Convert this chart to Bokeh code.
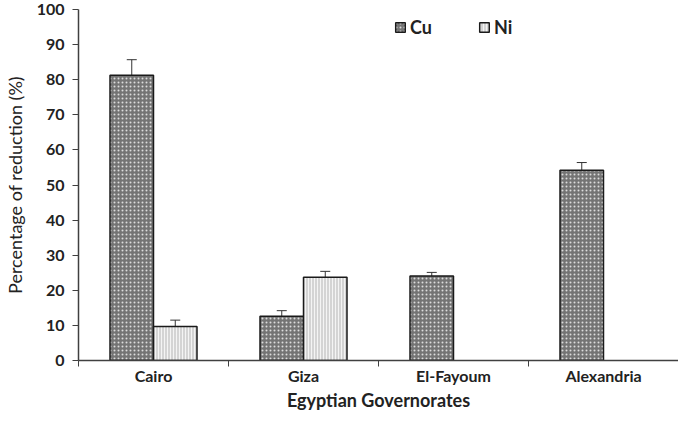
from bokeh.plotting import figure
from bokeh.models import ColumnDataSource, Whisker, FixedTicker, Legend, LegendItem, Range1d
from bokeh.embed import file_html
from bokeh.resources import INLINE

categories = ["Cairo", "Giza", "El-Fayoum", "Alexandria"]
cu_values = [81.3, 12.6, 24.1, 54.2]
cu_errors = [4.4, 1.6, 1.0, 2.2]
ni_values = [9.7, 23.7, None, None]
ni_errors = [1.8, 1.7, None, None]
y_ticks = [0, 10, 20, 30, 40, 50, 60, 70, 80, 90, 100]
x_title = "Egyptian Governorates"
y_title = "Percentage of reduction (%)"

bar_w = 0.29
FONT = "Lato"

cu_x = [i + 0.5 - bar_w / 2 for i in range(len(categories))]
ni_idx = [i for i, v in enumerate(ni_values) if v is not None]
ni_x = [i + 0.5 + bar_w / 2 for i in ni_idx]
ni_v = [ni_values[i] for i in ni_idx]
ni_e = [ni_errors[i] for i in ni_idx]

cu_src = ColumnDataSource(dict(x=cu_x, top=cu_values,
                               upper=[v + e for v, e in zip(cu_values, cu_errors)],
                               lower=[v - e for v, e in zip(cu_values, cu_errors)]))
ni_src = ColumnDataSource(dict(x=ni_x, top=ni_v,
                               upper=[v + e for v, e in zip(ni_v, ni_e)],
                               lower=[v - e for v, e in zip(ni_v, ni_e)]))

p = figure(width=678, height=413, output_backend="svg", toolbar_location=None,
           x_range=Range1d(0, len(categories)), y_range=Range1d(0, 100),
           min_border_top=9, min_border_right=0, min_border_left=8, min_border_bottom=0)
p.outline_line_color = None
p.grid.grid_line_color = None
p.background_fill_color = "white"

cu_r = p.vbar(x="x", top="top", width=bar_w, source=cu_src, fill_color="#747474",
              line_color="#1a1a1a", line_width=1.5, hatch_pattern=".", hatch_color="#dcdcdc",
              hatch_scale=4, hatch_weight=1)
ni_r = p.vbar(x="x", top="top", width=bar_w, source=ni_src, fill_color="#d4d4d4",
              line_color="#1a1a1a", line_width=1.5, hatch_pattern="|", hatch_color="#f4f4f4",
              hatch_scale=3, hatch_weight=1)

for src in (cu_src, ni_src):
    w = Whisker(base="x", upper="upper", lower="lower", source=src,
                line_color="#333333", line_width=1)
    w.upper_head.size = 10
    w.lower_head.size = 10
    w.upper_head.line_color = "#333333"
    w.lower_head.line_color = "#333333"
    p.add_layout(w)

# x axis
xa = p.xaxis[0]
xa.ticker = FixedTicker(ticks=[i + 0.5 for i in range(len(categories))],
                        minor_ticks=list(range(len(categories) + 1)))
xa.major_label_overrides = {i + 0.5: c for i, c in enumerate(categories)}
xa.major_tick_out = 0
xa.major_tick_in = 0
xa.minor_tick_out = 6
xa.minor_tick_in = 0
xa.minor_tick_line_color = "#404040"
xa.axis_line_color = "#404040"
xa.axis_line_width = 1.5
xa.major_label_text_font = FONT
xa.major_label_text_font_style = "bold"
xa.major_label_text_font_size = "16px"
xa.major_label_text_color = "#222222"
xa.major_label_standoff = -1
xa.axis_label = x_title
xa.axis_label_text_font = FONT
xa.axis_label_text_font_style = "bold"
xa.axis_label_text_font_size = "18px"
xa.axis_label_text_color = "#222222"
xa.axis_label_standoff = 1

ya = p.yaxis[0]
ya.ticker = FixedTicker(ticks=y_ticks, minor_ticks=[])
ya.major_tick_out = 6
ya.major_tick_in = 0
ya.major_tick_line_color = "#404040"
ya.axis_line_color = "#404040"
ya.axis_line_width = 1.5
ya.major_label_text_font = FONT
ya.major_label_text_font_style = "bold"
ya.major_label_text_font_size = "16px"
ya.major_label_text_color = "#222222"
ya.major_label_standoff = 8
ya.axis_label = y_title
ya.axis_label_text_font = FONT
ya.axis_label_text_font_style = "normal"
ya.axis_label_text_font_size = "18px"
ya.axis_label_text_color = "#222222"
ya.axis_label_standoff = 8

legend = Legend(items=[LegendItem(label="Cu", renderers=[cu_r]),
                       LegendItem(label="Ni", renderers=[ni_r])],
                orientation="horizontal", location=(316, 322),
                border_line_color=None, background_fill_alpha=0,
                glyph_width=12, glyph_height=12, spacing=46, label_standoff=4,
                label_text_font=FONT, label_text_font_style="bold",
                label_text_font_size="18px", label_text_color="#222222")
p.add_layout(legend, "center")

open("out.html", "w").write(file_html(p, INLINE))
